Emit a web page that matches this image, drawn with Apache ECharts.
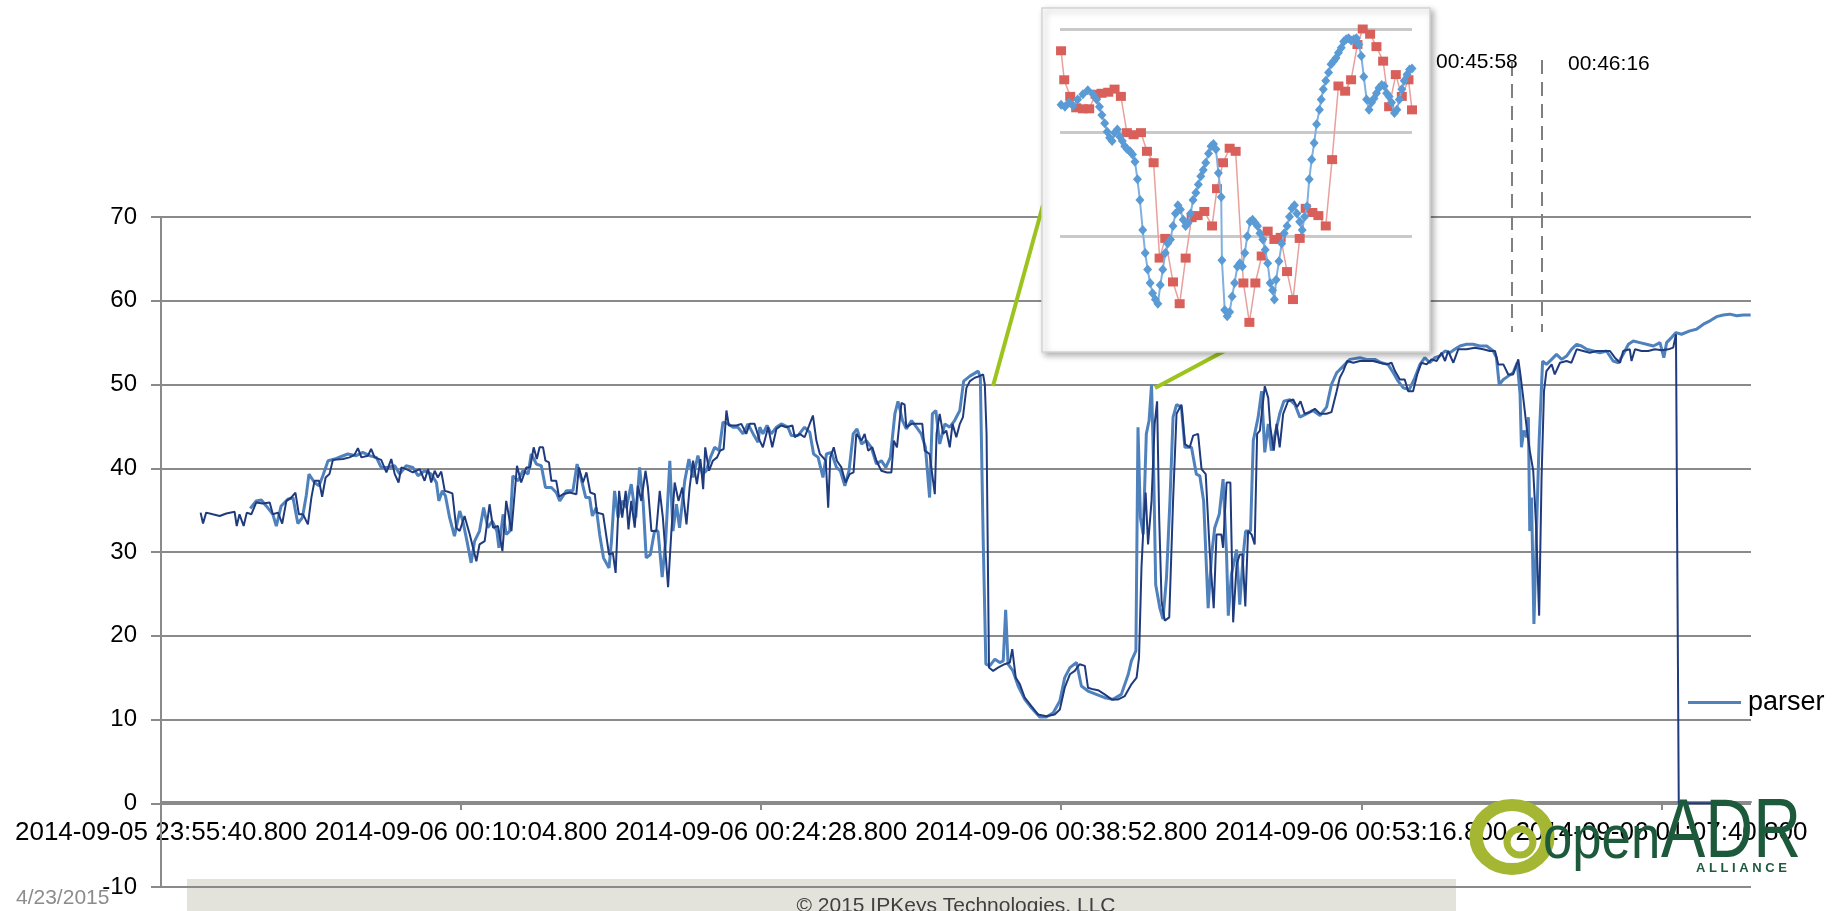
<!DOCTYPE html>
<html>
<head>
<meta charset="utf-8">
<script src="https://cdn.jsdelivr.net/npm/echarts@6/dist/echarts.min.js"></script>
<style>
html,body{margin:0;padding:0;background:#fff;}
#c{width:1834px;height:911px;}
</style>
</head>
<body>
<div id="c"></div>
<script>
// ---- Main chart data (seconds after 2014-09-05 23:55:40.800) ----
const startLabel = [2014, 8, 5, 23, 55, 40, 800];
const xTickValues = [0, 864, 1728, 2592, 3456, 4320];
const yTicks = [-10, 0, 10, 20, 30, 40, 50, 60, 70];

const navyT = [
 114,121,130,149,169,188,212,218,226,238,247,260,274,293,313,322,337,349,361,375,387,397,409,423,433,442,455,464,474,485,495,524,543,557,567,577,596,605,615,634,649,663,673,684,692,711,725,745,759,769,778,788,797,807,817,826,839,850,
 860,874,889,908,917,932,946,956,970,983,994,1009,1025,1037,1052,1063,1073,1082,1090,1100,1107,1117,1124,1138,1146,1157,1177,1196,1203,1215,1225,1236,1249,1255,1273,1290,1301,1309,1319,1328,1338,1346,1354,1364,1373,1383,1395,1402,1412,1426,1436,1445,1460,1469,1479,1490,1501,1513,1522,1532,1543,1553,1561,1567,1578,1589,1601,1610,1620,1628,1635,1657,1671,1685,1695,1709,1724,
 1733,1748,1760,1772,1786,1801,1818,1825,1839,1853,1866,1877,1887,1897,1906,1914,1921,1927,1937,1946,1959,1971,1983,1994,2002,2017,2026,2036,2048,2060,2074,2090,2103,2110,2119,2132,2141,2146,2161,2175,2192,2199,2213,2228,2233,2242,2252,2261,2271,2279,2290,2300,2309,2319,2329,2343,2357,2367,2372,2377,2384,2396,2410,2429,2444,2451,2461,2473,2487,2506,2525,2549,2573,
 2588,2602,2617,2631,2645,2660,2669,2684,2698,2717,2737,2756,2775,2794,2809,2816,2823,2830,2835,2842,2852,2861,2868,2874,2881,2890,2903,2914,2924,2938,2948,2962,2972,2986,2996,3008,3020,3031,3039,3053,3058,3068,3079,3087,3097,3106,3114,3122,3130,3140,3149,3156,3164,3178,3188,3194,3204,3212,3221,3231,3245,3260,3271,3281,3293,3308,3322,3337,3356,3370,3385,3394,3404,3415,3433,
 3452,3471,3490,3509,3529,3543,3553,3567,3581,3591,3605,3617,3629,3644,3658,3673,3687,3697,3706,3721,3735,3759,3783,3807,3826,3841,3850,3865,3879,3893,3908,3914,3922,3932,3941,3951,3959,3968,3975,3982,3989,4004,4013,4028,4047,4061,4076,4095,4114,4133,4153,4172,4186,4201,4210,4229,4234,4244,4263,4282,4301,4321,4340,4354,4362,4370,4535
];
const navyV = [
 34.7,33.4,34.7,34.5,34.3,34.6,34.8,33.1,34.5,33.1,34.7,34.5,35.9,35.8,35.9,34.5,34.7,33.4,36.1,36.5,37.1,34.5,34.5,33.3,36.5,38.5,38.5,36.6,38.9,39.3,41.0,41.1,41.3,41.6,42.4,41.3,41.5,42.3,41.3,41.0,39.5,41.1,39.3,38.3,40.1,39.8,39.5,39.9,38.5,39.9,38.3,39.7,38.9,39.6,37.3,37.2,37.0,32.9,
 32.5,34.3,32.1,28.9,30.9,31.3,35.7,32.9,33.1,30.1,36.1,32.5,40.3,38.3,40.1,40.1,42.5,41.1,42.5,42.5,40.9,40.7,38.5,38.5,36.6,36.9,37.1,36.9,40.1,38.3,39.5,37.1,36.9,34.7,34.5,29.7,29.9,27.5,37.3,34.1,37.3,32.7,36.1,32.9,37.9,36.1,39.7,37.7,32.5,32.5,37.3,34.1,25.8,32.1,38.3,36.1,37.7,33.3,37.7,40.9,38.1,41.1,37.5,42.5,39.7,40.9,41.3,42.1,42.3,46.9,45.1,45.1,45.3,44.1,45.3,45.3,43.3,
 42.5,44.9,42.5,44.7,45.1,44.9,45.1,43.7,44.1,43.7,45.1,46.3,43.3,41.7,41.3,40.9,35.3,41.3,42.5,40.9,40.1,38.3,39.3,39.5,44.1,43.3,44.1,42.1,42.5,40.9,39.7,39.5,39.5,43.3,42.5,47.8,47.6,44.9,45.3,45.3,45.3,42.1,41.7,36.9,44.1,46.5,44.1,44.5,42.5,45.3,43.7,45.3,46.1,49.6,50.4,50.8,51.0,51.2,50.0,44.1,16.2,15.8,16.2,16.6,16.8,18.4,15.0,14.2,12.6,11.6,10.6,10.4,10.6,
 11.2,13.8,15.4,15.8,16.6,16.4,13.8,13.6,13.5,13.0,12.4,12.4,12.8,14.2,15.0,17.4,28.1,34.1,37.1,30.9,36.1,45.3,48.0,34.1,24.1,21.8,22.2,36.1,46.5,47.6,42.9,42.5,43.9,44.1,39.9,39.3,29.7,23.3,32.1,32.1,30.5,38.3,38.3,21.6,28.5,29.7,29.7,23.5,32.5,32.1,30.9,44.1,44.5,49.8,48.4,44.9,42.1,45.3,42.5,46.5,48.0,48.2,47.3,48.0,46.5,46.7,47.1,46.5,46.5,46.7,49.2,50.8,51.6,52.8,52.6,
 52.8,52.8,52.8,52.6,52.4,52.6,51.6,50.6,50.6,49.2,49.2,51.2,52.6,52.4,53.0,52.8,53.8,52.8,54.0,52.6,54.2,54.2,54.4,54.2,54.0,54.0,52.4,52.4,51.2,51.2,53.0,51.2,48.5,44.9,42.1,39.7,33.3,22.4,38.9,49.2,51.6,52.4,51.2,52.6,52.8,52.6,54.2,54.0,53.8,54.0,54.0,54.0,53.2,52.6,54.0,54.2,52.8,54.2,54.0,54.0,54.2,54.1,54.2,54.4,56.0,0,0
];

const parserT = [
 257,274,289,303,322,332,346,365,380,394,407,418,426,442,455,466,481,500,519,538,562,581,601,620,634,653,673,687,706,725,740,759,778,793,800,810,819,831,845,
 860,869,881,893,903,917,929,941,954,967,973,985,994,1004,1013,1028,1042,1057,1066,1081,1095,1107,1124,1138,1148,1167,1186,1198,1210,1223,1234,1242,1253,1263,1274,1290,1297,1306,1316,1328,1340,1354,1367,1378,1388,1397,1409,1421,1431,1443,1453,1465,1474,1484,1493,1508,1520,1532,1546,1559,1570,1582,1594,1607,1618,1633,1647,1661,1676,1690,1705,1719,
 1724,1733,1745,1757,1772,1786,1805,1815,1834,1853,1868,1879,1892,1906,1916,1930,1945,1956,1969,1981,1993,2004,2017,2031,2045,2060,2074,2087,2100,2113,2122,2135,2146,2161,2175,2189,2201,2213,2221,2231,2242,2257,2271,2285,2300,2311,2329,2353,2359,2367,2375,2386,2401,2415,2425,2432,2439,2453,2468,2487,2506,2530,2549,2569,
 2588,2602,2617,2636,2650,2669,2693,2717,2741,2765,2785,2794,2807,2813,2820,2828,2837,2845,2852,2858,2864,2876,2885,2895,2905,2914,2924,2938,2948,2967,2981,2991,3002,3015,3025,3034,3047,3058,3068,3073,3082,3097,3106,3116,3123,3137,3145,3159,3169,3178,3188,3197,3210,3221,3233,3250,3265,3279,3298,3317,3337,3356,3370,3385,3404,3423,
 3452,3471,3495,3514,3533,3548,3562,3577,3594,3610,3625,3639,3653,3668,3682,3697,3711,3725,3740,3759,3778,3797,3817,3836,3845,3853,3865,3879,3893,3905,3913,3917,3924,3932,3937,3941,3946,3953,3961,3968,3978,3989,4004,4018,4033,4047,4061,4076,4090,4105,4124,4143,4162,4181,4196,4210,4225,4239,4258,4277,4297,4316,4327,4335,4349,4362,4378,4402,4421,4441,4460,4479,4498,4517,4537,4556,4577
];
const parserV = [
 35.2,36.1,36.2,35.5,34.5,33.1,35.5,36.3,36.5,33.4,34.1,36.7,39.3,38.3,37.9,39.1,40.9,41.1,41.4,41.7,41.5,41.9,41.5,41.3,40.1,40.1,40.3,39.3,40.3,40.1,39.1,39.7,39.3,38.3,36.1,37.3,36.7,34.1,31.9,
 34.9,33.7,31.3,28.7,31.3,32.5,35.3,32.9,33.7,32.5,30.5,34.5,32.1,32.5,39.1,38.5,39.7,39.3,41.7,40.5,40.3,37.7,37.7,37.1,36.1,37.3,37.3,40.5,38.7,36.5,36.5,34.3,35.3,32.1,29.3,28.1,31.3,37.3,34.1,36.1,35.3,38.1,34.1,40.1,36.1,29.3,29.7,32.5,32.5,27.0,31.3,40.9,32.5,35.7,32.9,38.5,41.1,38.9,41.5,39.3,39.7,41.3,42.5,42.1,45.5,45.3,44.9,44.9,44.1,45.3,44.1,43.1,
 44.9,44.1,45.1,44.1,44.9,45.3,44.9,43.9,43.9,44.9,44.3,41.7,41.3,38.9,41.7,41.9,40.1,39.7,37.9,39.7,44.1,44.7,42.9,43.3,42.5,40.5,40.9,40.1,41.3,46.5,48.0,45.7,44.7,45.7,44.9,44.1,42.5,36.5,46.5,46.9,42.9,45.3,44.9,45.7,46.9,50.4,51.0,51.6,50.8,32.1,16.6,16.4,17.2,16.8,17.0,23.1,16.6,15.8,14.0,12.4,11.4,10.3,10.3,10.8,
 12.2,15.0,16.2,16.8,14.0,13.4,13.0,12.6,12.4,13.0,15.4,17.0,18.2,44.9,34.1,32.1,44.1,45.7,50.0,40.1,26.1,23.3,22.0,26.9,36.1,46.1,47.6,47.3,42.5,42.5,39.3,39.1,36.1,23.3,29.7,32.9,34.5,38.7,29.7,22.4,27.3,30.3,23.7,29.7,32.5,32.5,43.3,46.1,49.2,41.9,45.3,42.1,44.5,46.5,48.0,48.2,47.6,46.1,46.5,46.9,46.3,47.3,50.0,51.4,52.2,53.0,
 53.2,53.0,53.0,52.6,52.4,51.4,50.4,49.6,49.4,50.8,52.4,53.2,52.6,53.2,53.4,54.0,53.8,54.2,54.6,54.8,54.8,54.6,54.6,54.0,53.2,50.0,50.6,51.0,51.4,52.6,48.9,42.5,44.5,43.7,46.1,32.5,36.5,21.4,33.3,43.3,52.8,52.4,53.0,53.6,53.0,53.4,54.2,54.8,54.6,54.2,54.0,53.8,54.0,52.8,52.6,53.6,54.8,55.2,55.0,54.8,54.6,55.0,53.2,55.0,55.6,56.2,56.0,56.4,56.6,57.2,57.6,58.1,58.3,58.4,58.2,58.3,58.3
];

// ---- Inset (zoomed detail) data ----
const insetBlueX = [
 0.3,1.4,2.6,3.7,5.0,6.5,7.9,9.4,10.4,11.2, 11.9,12.7,13.4,14.1,14.8,15.5,16.3,17.0,17.7,18.4,
 19.1,19.9,20.6,21.3,22.0,22.7,23.5,24.2,24.9,25.6, 26.3,27.1,27.8,28.5,29.2,29.9,30.6,31.4,32.1,32.8,
 33.5,34.2,35.0,35.7,36.4,37.1,37.8,38.6,39.3,40.0, 40.7,41.4,42.2,42.9,43.6,44.3,45.0,45.8,46.0,46.8,
 47.5,48.2,48.9,49.6,50.4,51.1,51.8,52.5,53.2,54.0, 54.7,55.4,56.1,56.8,57.6,58.3,59.0,59.7,60.4,60.9,
 61.4,62.2,63.0,63.7,64.5,65.2,65.9,66.6,67.3,68.1, 68.8,69.5,70.2,70.8,71.5,72.2,72.9,73.7,74.2,74.8,
 75.5,76.3,77.0,77.7,78.4,79.1,79.9,80.6,81.3,82.0, 82.7,83.5,84.2,84.9,85.6,86.3,87.1,87.8,88.5,89.2,
 89.9,90.6,91.4,92.1,92.8,93.5,94.2,95.0,95.7,96.4, 97.1,97.8,98.6,99.3,100
];
const insetBlueY = [
 2.27,2.25,2.29,2.26,2.32,2.37,2.41,2.37,2.32,2.25, 2.17,2.09,2.01,1.95,1.92,2.00,2.03,1.96,1.92,1.87,
 1.84,1.82,1.79,1.72,1.55,1.35,1.06,0.84,0.68,0.55, 0.45,0.39,0.35,0.53,0.68,0.84,0.93,0.97,1.10,1.22,
 1.30,1.26,1.16,1.10,1.13,1.22,1.35,1.42,1.50,1.58, 1.64,1.71,1.80,1.87,1.89,1.84,1.61,1.38,0.77,0.29,
 0.23,0.27,0.42,0.55,0.71,0.74,0.71,0.84,1.00,1.14, 1.16,1.13,1.10,1.03,0.97,0.87,0.74,0.55,0.48,0.39,
 0.58,0.76,0.93,1.03,1.10,1.19,1.27,1.30,1.22,1.14, 1.06,1.19,1.29,1.55,1.74,1.90,2.08,2.22,2.32,2.42,
 2.50,2.58,2.66,2.69,2.72,2.77,2.82,2.88,2.90,2.91, 2.89,2.90,2.91,2.85,2.74,2.54,2.32,2.22,2.29,2.33,
 2.38,2.43,2.46,2.45,2.38,2.35,2.29,2.19,2.22,2.32, 2.42,2.50,2.56,2.61,2.62
];
const insetRedX = [
 0.3,1.2,2.9,4.6,6.5,8.3,10.1,11.8,13.7,15.5, 17.3,19.0,20.9,23.0,24.7,26.6,28.3,29.9,32.1,34.0,
 35.7,37.4,39.1,41.0,43.2,44.6,46.3,48.2,49.9,52.1, 53.8,55.5,57.3,59.0,60.9,62.7,64.5,66.2,68.1,69.8,
 71.7,73.4,75.5,77.3,79.1,81.0,82.7,84.5,86.0,88.1, 89.9,91.8,93.5,95.4,97.1,99.0,100
];
const insetRedY = [
 2.79,2.51,2.35,2.24,2.23,2.23,2.37,2.38,2.39,2.42, 2.35,2.00,1.98,2.00,1.82,1.71,0.79,0.98,0.56,0.35,
 0.79,1.18,1.20,1.24,1.10,1.46,1.71,1.85,1.82,0.55, 0.17,0.55,0.81,1.05,0.97,0.99,0.66,0.39,0.98,1.27,
 1.23,1.20,1.10,1.74,2.45,2.40,2.51,2.85,3.00,2.95, 2.83,2.69,2.25,2.56,2.35,2.51,2.22
];

const annotationLabels = ['00:45:58', '00:46:16'];
const legendLabel = 'parser';
const dateFooter = '4/23/2015';
const copyrightText = '\u00A9 2015 IPKeys Technologies, LLC';

// ---- helpers ----
const START_MS = Date.UTC.apply(null, startLabel);
function pad(n, w) { n = String(n); while (n.length < w) n = '0' + n; return n; }
function fmtTime(v) {
  const d = new Date(START_MS + Math.round(v * 1000));
  return d.getUTCFullYear() + '-' + pad(d.getUTCMonth() + 1, 2) + '-' + pad(d.getUTCDate(), 2) + ' ' +
    pad(d.getUTCHours(), 2) + ':' + pad(d.getUTCMinutes(), 2) + ':' + pad(d.getUTCSeconds(), 2) + '.' + pad(d.getUTCMilliseconds(), 3);
}
const zip = (xs, ys) => xs.map((x, i) => [x, ys[i]]);

const FONT = "'Liberation Sans', Arial, sans-serif";
const AXIS_GRAY = '#8a8a8a';
const LOGO_GREEN = '#1d5a3c';

const chart = echarts.init(document.getElementById('c'), null, { renderer: 'canvas' });

const option = {
  animation: false,
  backgroundColor: '#ffffff',
  textStyle: { fontFamily: FONT },
  grid: [
    { left: 161, right: 83, top: 217, bottom: 24, containLabel: false },
    { left: 1060, top: 29, width: 352, height: 311, containLabel: false }
  ],
  legend: {
    data: [{ name: legendLabel, icon: 'rect' }],
    left: 1683, top: 684,
    itemWidth: 53, itemHeight: 3,
    itemGap: 10,
    textStyle: { fontSize: 27, color: '#000', fontFamily: FONT, padding: [0, 0, 0, 2] },
    selectedMode: false
  },
  xAxis: [
    {
      type: 'value', gridIndex: 0, min: 0, max: 4578, interval: 864,
      position: 'bottom', offset: -85,
      axisLine: { show: true, onZero: false, lineStyle: { color: AXIS_GRAY, width: 2 } },
      axisTick: { show: true, length: 8, lineStyle: { color: AXIS_GRAY, width: 2 }, customValues: xTickValues },
      axisLabel: {
        show: true, fontSize: 26, color: '#000', margin: 18, fontFamily: FONT,
        customValues: xTickValues,
        showMinLabel: true, showMaxLabel: true,
        hideOverlap: false,
        formatter: function (v) { return (v % 864 === 0) ? fmtTime(v) : ''; }
      },
      splitLine: { show: false }
    },
    {
      type: 'value', gridIndex: 1, min: 0, max: 100, show: false
    }
  ],
  yAxis: [
    {
      type: 'value', gridIndex: 0, min: -10, max: 70, interval: 10, z: 1,
      axisLine: { show: true, lineStyle: { color: AXIS_GRAY, width: 2 } },
      axisTick: { show: true, length: 10, lineStyle: { color: AXIS_GRAY, width: 2 } },
      axisLabel: { fontSize: 24, color: '#000', margin: 24, fontFamily: FONT },
      splitLine: { show: true, lineStyle: { color: AXIS_GRAY, width: 2 } }
    },
    {
      type: 'value', gridIndex: 1, min: 0, max: 3, interval: 1, z: 21,
      axisLine: { show: false }, axisTick: { show: false }, axisLabel: { show: false },
      splitLine: { show: true, showMinLine: false, lineStyle: { color: '#c9c9c9', width: 3 } }
    }
  ],
  series: [
    {
      name: legendLabel, type: 'line', xAxisIndex: 0, yAxisIndex: 0,
      data: zip(parserT, parserV), symbol: 'none', smooth: false,
      lineStyle: { color: '#4f81bd', width: 3 }, itemStyle: { color: '#4f81bd' }, z: 2
    },
    {
      name: 'meter', type: 'line', xAxisIndex: 0, yAxisIndex: 0,
      data: zip(navyT, navyV), symbol: 'none', smooth: false,
      lineStyle: { color: '#1f3a7d', width: 2 }, itemStyle: { color: '#1f3a7d' }, z: 3
    },
    {
      name: 'inset-red', type: 'line', xAxisIndex: 1, yAxisIndex: 1,
      data: zip(insetRedX, insetRedY), symbol: 'rect', symbolSize: [10, 9], showAllSymbol: true,
      lineStyle: { color: '#e8a09c', width: 1.5 }, itemStyle: { color: '#d9605a' }, z: 22
    },
    {
      name: 'inset-blue', type: 'line', xAxisIndex: 1, yAxisIndex: 1,
      data: zip(insetBlueX, insetBlueY), symbol: 'diamond', symbolSize: [9, 10], showAllSymbol: true,
      lineStyle: { color: '#7fb0de', width: 2 }, itemStyle: { color: '#5b9bd5' }, z: 23
    }
  ],
  graphic: {
    elements: [
      // footer band
      { type: 'rect', z: -5, shape: { x: 187, y: 879, width: 1269, height: 40 }, style: { fill: '#e3e3dc' } },
      { type: 'text', z: 5, x: 956, y: 896, style: { text: copyrightText, fill: '#404040', align: 'center', verticalAlign: 'top', font: '21px ' + FONT } },
      { type: 'text', z: 5, x: 16, y: 898, style: { text: dateFooter, fill: '#8c8c8c', align: 'left', verticalAlign: 'middle', font: '21px ' + FONT } },
      // green connectors
      { type: 'line', z: 10, shape: { x1: 993, y1: 386, x2: 1043, y2: 205 }, style: { stroke: '#9dc41e', lineWidth: 4 } },
      { type: 'line', z: 10, shape: { x1: 1155, y1: 388, x2: 1230, y2: 348 }, style: { stroke: '#9dc41e', lineWidth: 4 } },
      // inset frame
      { type: 'rect', z: 20, shape: { x: 1042, y: 8, width: 388, height: 344 },
        style: { fill: '#ffffff', stroke: '#d4d4d4', lineWidth: 1.5, shadowBlur: 6, shadowOffsetX: 3, shadowOffsetY: 3, shadowColor: 'rgba(0,0,0,0.3)' } },
      // dashed markers
      { type: 'line', z: 10, shape: { x1: 1512, y1: 62, x2: 1512, y2: 332 }, style: { stroke: '#7f7f7f', lineWidth: 2, lineDash: [14, 8] } },
      { type: 'line', z: 10, shape: { x1: 1542, y1: 60, x2: 1542, y2: 332 }, style: { stroke: '#7f7f7f', lineWidth: 2, lineDash: [14, 8] } },
      { type: 'text', z: 11, x: 1436, y: 62, style: { text: annotationLabels[0], fill: '#000', verticalAlign: 'middle', font: '21px ' + FONT } },
      { type: 'text', z: 11, x: 1568, y: 64, style: { text: annotationLabels[1], fill: '#000', verticalAlign: 'middle', font: '21px ' + FONT } },
      // openADR logo approximation
      { type: 'circle', z: 30, x: 1512, y: 837, scaleX: 1.12, shape: { cx: 0, cy: 0, r: 32 }, style: { fill: 'none', stroke: '#a4b632', lineWidth: 12 } },
      { type: 'circle', z: 30, shape: { cx: 1520, cy: 842, r: 13 }, style: { fill: 'none', stroke: '#a4b632', lineWidth: 7 } },
      { type: 'text', z: 31, x: 1543, y: 841, scaleX: 0.85, style: { text: 'open', fill: LOGO_GREEN, verticalAlign: 'middle', font: '62px ' + FONT } },
      { type: 'text', z: 31, x: 1661, y: 834, scaleX: 0.8, style: { text: 'ADR', fill: LOGO_GREEN, verticalAlign: 'middle', font: '83px ' + FONT } },
      { type: 'text', z: 31, x: 1696, y: 868, style: { text: 'A L L I A N C E', fill: LOGO_GREEN, verticalAlign: 'middle', font: 'bold 13px ' + FONT } }
    ]
  }
};

chart.setOption(option);
</script>
</body>
</html>
